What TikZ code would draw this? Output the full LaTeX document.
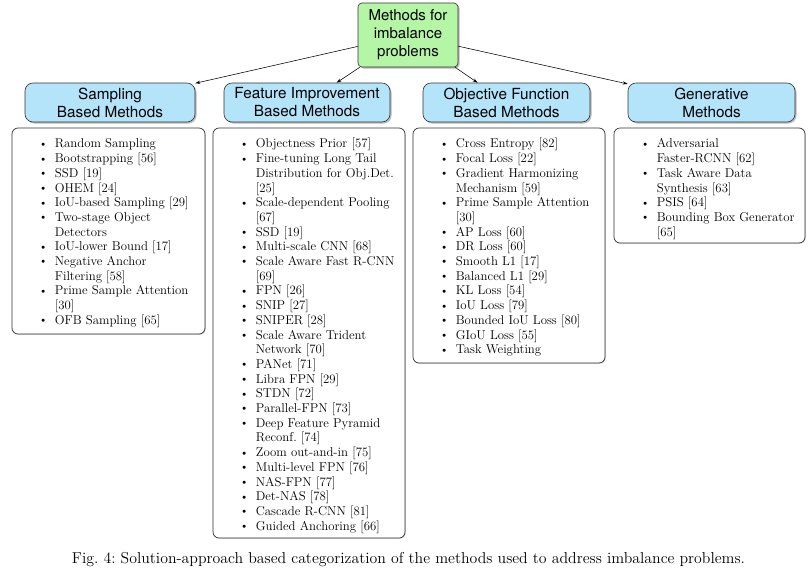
\documentclass[tikz,border=0pt]{standalone}
\usepackage{fontspec}
\newfontfamily\hdrfont{TeX Gyre Heros}
\usetikzlibrary{shadows,arrows.meta}
\definecolor{rootgreen}{RGB}{181,245,166}
\definecolor{hdrblue}{RGB}{180,228,250}
\definecolor{boxline}{RGB}{50,50,50}
\newcommand{\itm}{\makebox[16pt][l]{\raisebox{0.1ex}{\scalebox{0.9}{\textbullet}}}}
\newcommand{\cnt}{\hspace*{16pt}}
\frenchspacing
\begin{document}
\begin{tikzpicture}[x=1pt,y=-1pt,
  rootbox/.style={draw=boxline, fill=rootgreen, rounded corners=4pt, line width=0.6pt,
    drop shadow={shadow xshift=1.5pt,shadow yshift=-1.5pt,fill=black!55},
    minimum width=100pt, minimum height=64pt, align=center, inner sep=0pt,
    font=\hdrfont\fontsize{15}{18}\selectfont},
  hdrbox/.style={draw=boxline, fill=hdrblue, rounded corners=8pt, line width=0.6pt,
    drop shadow={shadow xshift=1.5pt,shadow yshift=-1.5pt,fill=black!55},
    minimum height=39pt, align=center, inner sep=0pt,
    font=\hdrfont\fontsize{15.3}{18}\selectfont},
  listbox/.style={draw=boxline, fill=white, rounded corners=6pt, line width=0.7pt,
    drop shadow={shadow xshift=0.8pt,shadow yshift=-0.8pt,fill=black!30},
    minimum width=192pt, inner sep=0pt},
  listtext/.style={anchor=north west, align=left, inner sep=0pt,
    font=\fontsize{12.8}{14.7}\selectfont\frenchspacing},
  conn/.style={-{Stealth[length=5pt,width=3.2pt]}, line width=0.55pt, black}
]
\useasboundingbox (0,0) rectangle (812,574);

\node[rootbox] (root) at (408,35) {Methods for\\imbalance\\problems};

\node[hdrbox, minimum width=170pt] (h1) at (110,102.5) {Sampling\\Based Methods};
\node[hdrbox, minimum width=166pt] (h2) at (307,102.5) {Feature Improvement\\Based Methods};
\node[hdrbox, minimum width=167pt] (h3) at (506.5,102.5) {Objective Function\\Based Methods};
\node[hdrbox, minimum width=167pt] (h4) at (711.5,102.5) {Generative\\Methods};

\draw[conn] (root) -- (h1);
\draw[conn] (root) -- (h2);
\draw[conn] (root) -- (h3);
\draw[conn] (root) -- (h4);

\node[listbox, minimum width=193pt, minimum height=206pt] (b1) at (108.5,231) {};
\node[listbox, minimum width=192pt, minimum height=410pt] (b2) at (309,333) {};
\node[listbox, minimum width=192pt, minimum height=235pt] (b3) at (509,245.5) {};
\node[listbox, minimum width=191pt, minimum height=115pt] (b4) at (709.5,185.5) {};

\node[listtext] (t1) at ([xshift=27pt,yshift=-9.8pt]b1.north west) {\strut\itm Random Sampling\\
\itm Bootstrapping [56]\\
\itm SSD [19]\\
\itm OHEM [24]\\
\itm IoU-based Sampling [29]\\
\itm Two-stage Object\\
\cnt Detectors\\
\itm IoU-lower Bound [17]\\
\itm Negative Anchor\\
\cnt Filtering [58]\\
\itm Prime Sample Attention\\
\cnt [30]\\
\itm OFB Sampling [65]};

\node[listtext] (t2) at ([xshift=27pt,yshift=-9.8pt]b2.north west) {\strut\itm Objectness Prior [57]\\
\itm Fine-tuning Long Tail\\
\cnt Distribution for Obj.Det.\\
\cnt [25]\\
\itm Scale-dependent Pooling\\
\cnt [67]\\
\itm SSD [19]\\
\itm Multi-scale CNN [68]\\
\itm Scale Aware Fast R-CNN\\
\cnt [69]\\
\itm FPN [26]\\
\itm SNIP [27]\\
\itm SNIPER [28]\\
\itm Scale Aware Trident\\
\cnt Network [70]\\
\itm PANet [71]\\
\itm Libra FPN [29]\\
\itm STDN [72]\\
\itm Parallel-FPN [73]\\
\itm Deep Feature Pyramid\\
\cnt Reconf. [74]\\
\itm Zoom out-and-in [75]\\
\itm Multi-level FPN [76]\\
\itm NAS-FPN [77]\\
\itm Det-NAS [78]\\
\itm Cascade R-CNN [81]\\
\itm Guided Anchoring [66]};

\node[listtext] (t3) at ([xshift=27pt,yshift=-9.8pt]b3.north west) {\strut\itm Cross Entropy [82]\\
\itm Focal Loss [22]\\
\itm Gradient Harmonizing\\
\cnt Mechanism [59]\\
\itm Prime Sample Attention\\
\cnt [30]\\
\itm AP Loss [60]\\
\itm DR Loss [60]\\
\itm Smooth L1 [17]\\
\itm Balanced L1 [29]\\
\itm KL Loss [54]\\
\itm IoU Loss [79]\\
\itm Bounded IoU Loss [80]\\
\itm GIoU Loss [55]\\
\itm Task Weighting};

\node[listtext] (t4) at ([xshift=27pt,yshift=-9.8pt]b4.north west) {\strut\itm Adversarial\\
\cnt Faster-RCNN [62]\\
\itm Task Aware Data\\
\cnt Synthesis [63]\\
\itm PSIS [64]\\
\itm Bounding Box Generator\\
\cnt [65]};

\node[inner sep=0pt] (cap) at (408.5,560) {\resizebox{673pt}{!}{\fontsize{14}{17}\selectfont\frenchspacing Fig. 4: Solution-approach based categorization of the methods used to address imbalance problems.}};
\end{tikzpicture}
\end{document}
